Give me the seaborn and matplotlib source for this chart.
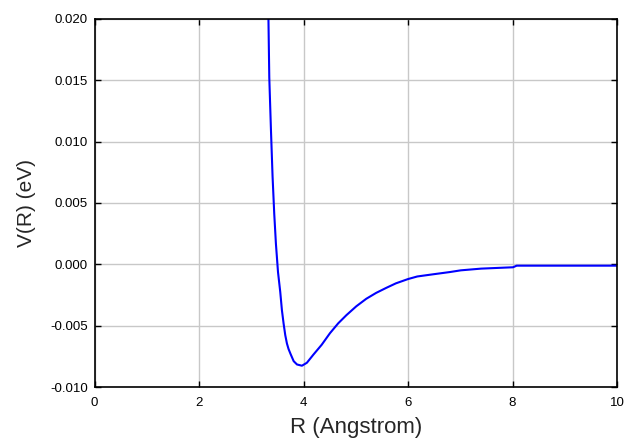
import matplotlib
matplotlib.use("Agg")
import matplotlib.pyplot as plt
import seaborn as sns
import pandas as pd

# Values
r_angstrom = [3.327, 3.343, 3.375, 3.406, 3.438, 3.470, 3.510, 3.553, 3.585, 3.617,
              3.649, 3.681, 3.712, 3.750, 3.810, 3.874, 3.968, 4.063, 4.189, 4.347,
              4.505, 4.662, 4.820, 5.009, 5.199, 5.388, 5.577, 5.767, 6.000, 6.177,
              6.484, 6.800, 7.010, 7.400, 8.010, 8.080, 9.000, 10.000]
v_ev = [0.0200, 0.01523, 0.01095, 0.00715, 0.00412, 0.00168, -0.00063, -0.00225, -0.00374, -0.00482,
        -0.00577, -0.00645, -0.00690, -0.00730, -0.00789, -0.00816, -0.00826, -0.00802, -0.00735, -0.00655,
        -0.00561, -0.00481, -0.00414, -0.00342, -0.00281, -0.00233, -0.00193, -0.00155, -0.00120, -0.00099,
        -0.00081, -0.00063, -0.00049, -0.00035, -0.00024, -0.00011, -0.00011, -0.00011]

x_ticks = [0, 2, 4, 6, 8, 10]
y_ticks = [-0.010, -0.005, 0.000, 0.005, 0.010, 0.015, 0.020]

df = pd.DataFrame({"R": r_angstrom, "V": v_ev})

sns.set_style("white")
plt.rcParams["font.family"] = ["Liberation Sans", "DejaVu Sans"]

fig = plt.figure(figsize=(6.27, 4.48), dpi=100)
ax = fig.add_axes([0.151, 0.136, 0.833, 0.822])

sns.lineplot(data=df, x="R", y="V", ax=ax, color="#0000ff", linewidth=1.5,
             sort=False, estimator=None)

ax.set_xlim(0, 10)
ax.set_ylim(-0.010, 0.020)
ax.set_xticks(x_ticks)
ax.set_yticks(y_ticks)
ax.set_xticklabels([f"{t:d}" for t in x_ticks])
ax.set_yticklabels([f"{t:.3f}" for t in y_ticks])

ax.grid(True, color="#c8c8c8", linewidth=1.0)
ax.set_axisbelow(True)

for s in ax.spines.values():
    s.set_visible(True)
    s.set_color("black")
    s.set_linewidth(1.2)

ax.tick_params(axis="both", which="both", direction="in", length=4, width=1.0,
               top=True, right=True, bottom=True, left=True,
               labelsize=9.5, colors="black", pad=5)
ax.tick_params(axis="x", pad=7)

ax.set_xlabel("R (Angstrom)", fontsize=16, labelpad=6)
ax.set_ylabel("V(R) (eV)", fontsize=15, labelpad=10)

fig.savefig("out.png", dpi=100)
